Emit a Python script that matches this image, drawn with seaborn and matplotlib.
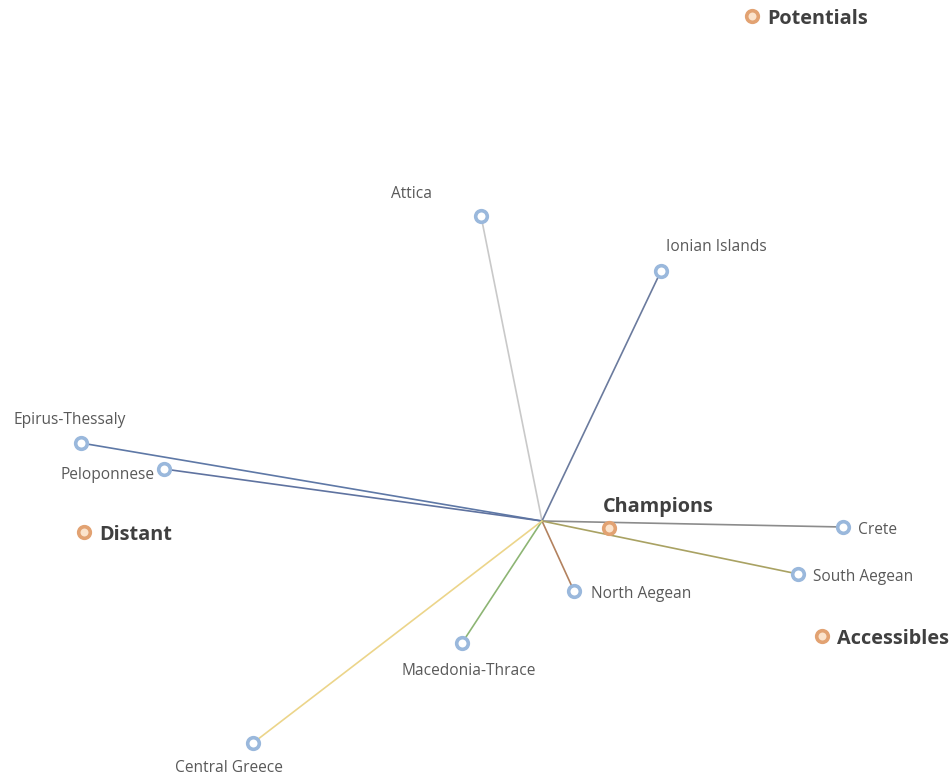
import pandas as pd
import seaborn as sns
import matplotlib.pyplot as plt

# ---------------------------------------------------------------------
# Data
# ---------------------------------------------------------------------
regions = ["Attica", "Ionian Islands", "Epirus-Thessaly", "Peloponnese", "Crete",
           "South Aegean", "North Aegean", "Macedonia-Thrace", "Central Greece"]
region_x = [-0.61, 1.19, -4.61, -3.78, 3.01, 2.56, 0.32, -0.80, -2.89]
region_y = [3.05, 2.50, 0.78, 0.52, -0.06, -0.53, -0.70, -1.22, -2.22]

clusters = ["Champions", "Distant", "Accessibles", "Potentials"]
cluster_x = [0.67, -4.58, 2.80, 2.10]
cluster_y = [-0.07, -0.11, -1.15, 5.05]

origin = (0.0, 0.0)

line_colors = ["#c9c9c9", "#6b7b9e", "#5e78a6", "#5f73a0", "#8c8c8c",
               "#a9a263", "#b3825f", "#8db574", "#ecd58a"]

# label placement: (dx, dy in points, ha)
region_lab = {
    "Attica": (-50, 17, "center"),
    "Ionian Islands": (40, 19, "center"),
    "Epirus-Thessaly": (-8, 18, "center"),
    "Peloponnese": (-6.5, -3, "right"),
    "Crete": (10.8, -1, "left"),
    "South Aegean": (10.8, -1, "left"),
    "North Aegean": (12.2, -1, "left"),
    "Macedonia-Thrace": (5, -18.7, "center"),
    "Central Greece": (-17.3, -16.6, "center"),
}
cluster_lab = {
    "Champions": (35.3, 16.6, "center"),
    "Distant": (10.8, 0, "left"),
    "Accessibles": (10.8, 0, "left"),
    "Potentials": (10.8, 0, "left"),
}

reg = pd.DataFrame({"name": regions, "x": region_x, "y": region_y})
clu = pd.DataFrame({"name": clusters, "x": cluster_x, "y": cluster_y})

# ---------------------------------------------------------------------
# Plot
# ---------------------------------------------------------------------
sns.set_style("white")
plt.rcParams["font.family"] = ["Open Sans", "DejaVu Sans"]

fig = plt.figure(figsize=(9.53, 7.75), dpi=100)
ax = fig.add_axes([0, 0, 1, 1])

for (_, r), c in zip(reg.iterrows(), line_colors):
    ax.plot([origin[0], r.x], [origin[1], r.y], color=c, lw=1.2, zorder=1)

sns.scatterplot(data=reg, x="x", y="y", ax=ax, s=70, marker="o",
                facecolor="white", edgecolor="#9ab8dc", linewidth=2.6, zorder=3)
sns.scatterplot(data=clu, x="x", y="y", ax=ax, s=70, marker="o",
                facecolor="#fbe3cc", edgecolor="#e2a272", linewidth=2.6, zorder=3)

for _, r in reg.iterrows():
    dx, dy, ha = region_lab[r["name"]]
    ax.annotate(r["name"], (r.x, r.y), xytext=(dx, dy), textcoords="offset points",
                ha=ha, va="center_baseline", fontsize=11.2, color="#595959")
for _, r in clu.iterrows():
    dx, dy, ha = cluster_lab[r["name"]]
    ax.annotate(r["name"], (r.x, r.y), xytext=(dx, dy), textcoords="offset points",
                ha=ha, va="center_baseline", fontsize=14.3, fontweight="bold",
                color="#404040")

ax.set_xlim(-5.42, 4.11)
ax.set_ylim(-2.54, 5.21)
ax.set_axis_off()

fig.savefig("out.png", dpi=100)
